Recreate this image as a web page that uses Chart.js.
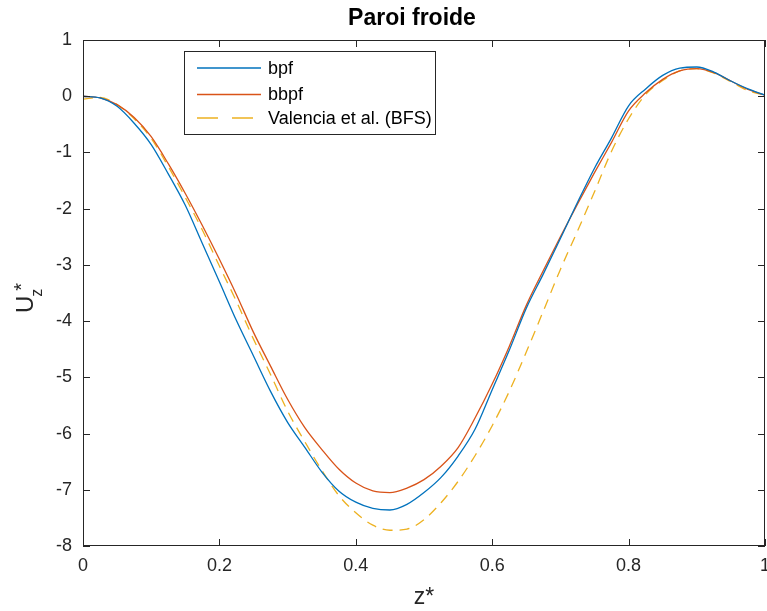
<!DOCTYPE html>
<html>
<head>
<meta charset="utf-8">
<script src="https://cdn.jsdelivr.net/npm/chart.js@4.4.1/dist/chart.umd.min.js"></script>
<style>
html, body { margin: 0; padding: 0; background: #fff; }
</style>
</head>
<body>
<canvas id="chart" width="767" height="611"></canvas>
<script>
// z* positions (shared by all series)
const zValues = [0, 0.025, 0.05, 0.075, 0.1, 0.125, 0.15, 0.175, 0.2, 0.225,
    0.25, 0.275, 0.3, 0.325, 0.35, 0.375, 0.4, 0.425, 0.45, 0.475,
    0.5, 0.525, 0.55, 0.575, 0.6, 0.625, 0.65, 0.675, 0.7, 0.725,
    0.75, 0.775, 0.8, 0.825, 0.85, 0.875, 0.9, 0.925, 0.95, 0.975, 1];
const bpf = [0.0, -0.03, -0.18, -0.48, -0.86, -1.38, -1.94, -2.62, -3.30, -3.99,
    -4.62, -5.25, -5.80, -6.24, -6.68, -7.02, -7.22, -7.33, -7.36, -7.26,
    -7.05, -6.78, -6.40, -5.92, -5.22, -4.52, -3.77, -3.16, -2.53, -1.89,
    -1.28, -0.74, -0.17, 0.13, 0.37, 0.50, 0.52, 0.43, 0.27, 0.13, 0.02];
const bbpf = [0.0, -0.03, -0.15, -0.38, -0.72, -1.20, -1.73, -2.30, -2.90, -3.53,
    -4.20, -4.80, -5.39, -5.89, -6.28, -6.63, -6.88, -7.02, -7.05, -6.97,
    -6.82, -6.58, -6.25, -5.72, -5.12, -4.45, -3.72, -3.10, -2.50, -1.92,
    -1.36, -0.82, -0.26, 0.06, 0.30, 0.45, 0.49, 0.42, 0.27, 0.12, 0.02];
const valencia = [-0.05, -0.02, -0.15, -0.40, -0.75, -1.25, -1.80, -2.38, -3.02, -3.65,
    -4.32, -4.95, -5.60, -6.14, -6.65, -7.10, -7.41, -7.63, -7.72, -7.70,
    -7.53, -7.23, -6.85, -6.39, -5.86, -5.25, -4.55, -3.82, -3.08, -2.40,
    -1.70, -0.98, -0.40, 0.03, 0.28, 0.45, 0.49, 0.41, 0.26, 0.10, 0.02];
const seriesNames = ['bpf', 'bbpf', 'Valencia et al. (BFS)'];
const xTicks = [0, 0.2, 0.4, 0.6, 0.8, 1];
const yTicks = [1, 0, -1, -2, -3, -4, -5, -6, -7, -8];

const FONT = "'Liberation Sans', Arial, Helvetica, sans-serif";
const INK = '#262626';

function pts(ys) {
    return zValues.map((z, i) => ({ x: z, y: ys[i] }));
}

// box, inward ticks, title, y label and legend drawn MATLAB style
const decorations = {
    id: 'decorations',
    afterDatasetsDraw(chart) {
        const ctx = chart.ctx;
        const a = chart.chartArea;
        const xs = chart.scales.x, ys = chart.scales.y;
        ctx.save();
        ctx.strokeStyle = INK;
        ctx.lineWidth = 1;
        ctx.strokeRect(Math.round(a.left) + 0.5, Math.round(a.top) + 0.5,
            Math.round(a.right - a.left) - 1, Math.round(a.bottom - a.top) - 1);
        const tl = 7;
        ctx.beginPath();
        xTicks.forEach(v => {
            const px = Math.round(xs.getPixelForValue(v)) + 0.5;
            ctx.moveTo(px, a.bottom); ctx.lineTo(px, a.bottom - tl);
            ctx.moveTo(px, a.top); ctx.lineTo(px, a.top + tl);
        });
        yTicks.forEach(v => {
            const py = Math.round(ys.getPixelForValue(v)) + 0.5;
            ctx.moveTo(a.left, py); ctx.lineTo(a.left + tl, py);
            ctx.moveTo(a.right, py); ctx.lineTo(a.right - tl, py);
        });
        ctx.stroke();

        // title
        ctx.fillStyle = '#000';
        ctx.font = 'bold 23px ' + FONT;
        ctx.textAlign = 'center';
        ctx.textBaseline = 'middle';
        ctx.fillText('Paroi froide', 412, 19);

        // y label U_z^*
        ctx.save();
        ctx.fillStyle = INK;
        ctx.translate(33, 313);
        ctx.rotate(-Math.PI / 2);
        ctx.textAlign = 'left';
        ctx.textBaseline = 'alphabetic';
        ctx.font = '24px ' + FONT;
        ctx.fillText('U', 0, 0);
        const wU = ctx.measureText('U').width;
        ctx.font = '16px ' + FONT;
        ctx.fillText('z', wU - 1, 9);
        ctx.font = '20px ' + FONT;
        ctx.fillText('*', wU + 5, -5);
        ctx.restore();

        // legend
        const lx = 184, ly = 51, lw = 251, lh = 83;
        ctx.fillStyle = '#fff';
        ctx.fillRect(lx, ly, lw, lh);
        ctx.strokeStyle = INK;
        ctx.lineWidth = 1;
        ctx.strokeRect(lx + 0.5, ly + 0.5, lw, lh);
        const rows = [68, 94.5, 118];
        chart.data.datasets.forEach((ds, i) => {
            ctx.beginPath();
            ctx.strokeStyle = ds.borderColor;
            ctx.lineWidth = 1.3;
            ctx.setLineDash(ds.borderDash && ds.borderDash.length ? [21, 14] : []);
            ctx.moveTo(197, rows[i]);
            ctx.lineTo(261, rows[i]);
            ctx.stroke();
            ctx.setLineDash([]);
            ctx.fillStyle = '#000';
            ctx.font = '18px ' + FONT;
            ctx.textAlign = 'left';
            ctx.textBaseline = 'middle';
            ctx.fillText(seriesNames[i], 268, rows[i] + 1);
        });
        ctx.restore();
    }
};

new Chart(document.getElementById('chart').getContext('2d'), {
    type: 'line',
    data: {
        datasets: [{
            label: seriesNames[0],
            data: pts(bpf),
            borderColor: '#0072BD',
            borderWidth: 1.3,
            pointRadius: 0,
            fill: false,
            cubicInterpolationMode: 'monotone'
        }, {
            label: seriesNames[1],
            data: pts(bbpf),
            borderColor: '#D95319',
            borderWidth: 1.3,
            pointRadius: 0,
            fill: false,
            cubicInterpolationMode: 'monotone'
        }, {
            label: seriesNames[2],
            data: pts(valencia),
            borderColor: '#EDB120',
            borderWidth: 1.3,
            borderDash: [10, 7],
            pointRadius: 0,
            fill: false,
            cubicInterpolationMode: 'monotone'
        }]
    },
    options: {
        responsive: false,
        animation: false,
        layout: { padding: { top: 40, right: 2, left: 0, bottom: 0 } },
        plugins: {
            legend: { display: false },
            title: { display: false },
            tooltip: { enabled: false }
        },
        scales: {
            x: {
                type: 'linear',
                min: 0, max: 1,
                afterBuildTicks: s => { s.ticks = xTicks.map(v => ({ value: v })); },
                afterFit: s => { s.height = 65; s.paddingLeft = 0; s.paddingRight = 0; },
                grid: { display: false, drawTicks: false },
                border: { display: false },
                ticks: {
                    color: INK, font: { family: FONT, size: 18 }, padding: 9, maxRotation: 0,
                    callback: v => String(v)
                },
                title: { display: true, text: 'z*', color: INK, font: { family: FONT, size: 23 }, padding: { top: 0, bottom: 0 } }
            },
            y: {
                min: -8, max: 1,
                afterBuildTicks: s => { s.ticks = yTicks.map(v => ({ value: v })); },
                afterFit: s => { s.width = 83; s.paddingTop = 0; s.paddingBottom = 0; },
                grid: { display: false, drawTicks: false },
                border: { display: false },
                ticks: { color: INK, font: { family: FONT, size: 18 }, padding: 11, callback: v => String(v) }
            }
        }
    },
    plugins: [decorations]
});
</script>
</body>
</html>
